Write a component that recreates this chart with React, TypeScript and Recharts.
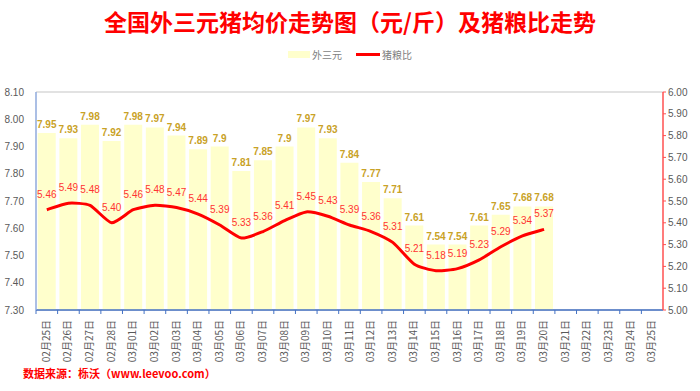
import React from 'react';
import {
  ComposedChart,
  Bar,
  Line,
  XAxis,
  YAxis,
  CartesianGrid,
  LabelList,
  Legend,
} from 'recharts';

const dates = [
  '02月25日', '02月26日', '02月27日', '02月28日',
  '03月01日', '03月02日', '03月03日', '03月04日', '03月05日', '03月06日', '03月07日',
  '03月08日', '03月09日', '03月10日', '03月11日', '03月12日', '03月13日', '03月14日',
  '03月15日', '03月16日', '03月17日', '03月18日', '03月19日', '03月20日', '03月21日',
  '03月22日', '03月23日', '03月24日', '03月25日',
];

const priceValues = [
  7.95, 7.93, 7.98, 7.92, 7.98, 7.97, 7.94, 7.89, 7.9, 7.81, 7.85, 7.9, 7.97, 7.93,
  7.84, 7.77, 7.71, 7.61, 7.54, 7.54, 7.61, 7.65, 7.68, 7.68,
];

const ratioValues = [
  5.46, 5.49, 5.48, 5.4, 5.46, 5.48, 5.47, 5.44, 5.39, 5.33, 5.36, 5.41, 5.45, 5.43,
  5.39, 5.36, 5.31, 5.21, 5.18, 5.19, 5.23, 5.29, 5.34, 5.37,
];

const leftTicks = [7.3, 7.4, 7.5, 7.6, 7.7, 7.8, 7.9, 8.0, 8.1];
const rightTicks = [5.0, 5.1, 5.2, 5.3, 5.4, 5.5, 5.6, 5.7, 5.8, 5.9, 6.0];

const chartData = dates.map((d, i) => ({
  date: d,
  price: priceValues[i],
  ratio: ratioValues[i],
}));

const CJK = '"Noto Sans CJK SC", sans-serif';
const NUM = '"Liberation Sans", Arial, sans-serif';

// excel-like smoothing, lighter tension than catmull-rom
function excelSmooth(context: any) {
  let pts: number[][] = [];
  return {
    areaStart() {},
    areaEnd() {},
    lineStart() {
      pts = [];
    },
    point(x: number, y: number) {
      pts.push([+x, +y]);
    },
    lineEnd() {
      if (!pts.length) return;
      context.moveTo(pts[0][0], pts[0][1]);
      for (let i = 0; i < pts.length - 1; i++) {
        const p0 = pts[i - 1] || pts[i];
        const p1 = pts[i];
        const p2 = pts[i + 1];
        const p3 = pts[i + 2] || p2;
        const k = 0.1;
        context.bezierCurveTo(
          p1[0] + (p2[0] - p0[0]) * k,
          p1[1] + (p2[1] - p0[1]) * k,
          p2[0] - (p3[0] - p1[0]) * k,
          p2[1] - (p3[1] - p1[1]) * k,
          p2[0],
          p2[1]
        );
      }
    },
  };
}

const DateTick = (props: any) => {
  const { x, y, payload } = props;
  const half = 627 / dates.length / 2;
  return (
    <g>
      <line x1={x - half} y1={y - 8} x2={x - half} y2={y - 4} stroke="#4472c4" strokeWidth={1} />
      <text
        x={x + 3}
        y={y + 2}
        transform={`rotate(-90, ${x + 3}, ${y + 2})`}
        textAnchor="end"
        fontSize={10}
        fontFamily={CJK}
        fill="#595959"
      >
        {payload.value}
      </text>
    </g>
  );
};

const LegendContent = () => (
  <div
    style={{
      display: 'flex',
      justifyContent: 'center',
      alignItems: 'center',
      fontSize: 10,
      fontFamily: CJK,
      color: '#7f7f7f',
    }}
  >
    <span style={{ display: 'inline-block', width: 22, height: 7, background: '#ffffcc', marginRight: 2 }} />
    <span style={{ marginRight: 14 }}>外三元</span>
    <span style={{ display: 'inline-block', width: 24, height: 3, background: '#ff0000', marginRight: 2 }} />
    <span>猪粮比</span>
  </div>
);

export default function App() {
  return (
    <div style={{ position: 'absolute', left: 0, top: 0, width: 700, height: 391, background: '#fff' }}>
      <div
        style={{
          position: 'absolute',
          top: 4,
          left: 0,
          width: 700,
          textAlign: 'center',
          fontFamily: CJK,
          fontWeight: 700,
          fontSize: 23,
          color: '#ff0000',
        }}
      >
        全国外三元猪均价走势图（元/斤）及猪粮比走势
      </div>
      <ComposedChart
        width={700}
        height={391}
        data={chartData}
        margin={{ top: 77, right: 0, bottom: 31, left: 0 }}
        barCategoryGap="8%"
      >
        <CartesianGrid vertical={false} stroke="#d9d9d9" strokeWidth={1.5} />
        <Legend
          verticalAlign="top"
          content={<LegendContent />}
          wrapperStyle={{ top: 47, left: 0, width: 700 }}
        />
        <XAxis
          dataKey="date"
          interval={0}
          height={50}
          tick={<DateTick />}
          tickLine={false}
          axisLine={{ stroke: '#4472c4', strokeWidth: 1.5 }}
        />
        <YAxis
          yAxisId="left"
          domain={[7.3, 8.1]}
          ticks={leftTicks}
          width={36}
          tickFormatter={(v: number) => v.toFixed(2)}
          tick={{ fontSize: 10, fill: '#595959', fontFamily: NUM }}
          tickLine={false}
          tickMargin={6}
          axisLine={{ stroke: '#8faadc', strokeWidth: 1.5 }}
        />
        <YAxis
          yAxisId="right"
          orientation="right"
          domain={[5, 6]}
          ticks={rightTicks}
          width={37}
          tickFormatter={(v: number) => v.toFixed(2)}
          tick={{ fontSize: 10, fill: '#595959', fontFamily: NUM }}
          tickSize={3}
          tickLine={{ stroke: '#ff5050' }}
          axisLine={{ stroke: '#ff5050', strokeWidth: 1.5 }}
        />
        <Bar yAxisId="left" dataKey="price" fill="#ffffcc" isAnimationActive={false}>
          <LabelList
            dataKey="price"
            position="top"
            offset={5}
            fill="#c9a227"
            fontSize={10}
            fontWeight={700}
            fontFamily={NUM}
          />
        </Bar>
        <Line
          yAxisId="right"
          type={excelSmooth as any}
          dataKey="ratio"
          stroke="#ff0000"
          strokeWidth={3}
          dot={false}
          isAnimationActive={false}
        >
          <LabelList
            dataKey="ratio"
            position="top"
            offset={12}
            fill="#ff3333"
            fontSize={10}
            fontFamily={NUM}
            formatter={(v: number) => v.toFixed(2)}
          />
        </Line>
      </ComposedChart>
      <div
        style={{
          position: 'absolute',
          top: 365,
          left: 23,
          fontFamily: CJK,
          fontWeight: 700,
          fontSize: 11,
          color: '#ff0000',
        }}
      >
        数据来源：栎沃（www.leevoo.com）
      </div>
    </div>
  );
}
